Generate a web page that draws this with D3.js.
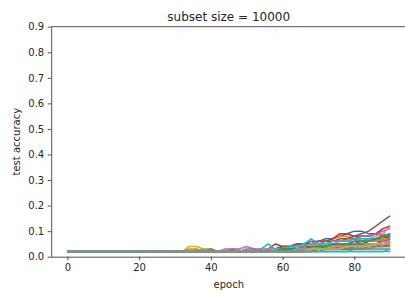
<!DOCTYPE html>
<html>
<head>
<meta charset="utf-8">
<script src="https://cdn.jsdelivr.net/npm/d3@7"></script>
<style>
  body { margin: 0; background: white; }
  text { font-family: "DejaVu Sans", sans-serif; fill: #262626; }
</style>
</head>
<body>
<div id="chart"></div>
<script>

const epochs = [0, 32, 34, 36, 38, 40, 42, 44, 46, 48, 50, 52, 54, 56, 58, 60,
                62, 64, 66, 68, 70, 72, 74, 76, 78, 80, 82, 84, 86, 88, 90];

// test accuracy of each run (one list per run, same order as epochs)
const run00 = [.02,.02,.02,.02,.02,.02,.02,.02,.02,.02,.02,.02,.02,.03,.03,.04,.04,.05,.05,.06,.06,.07,.07,.08,.09,.10,.10,.09,.09,.08,.09];
const run01 = [.02,.02,.02,.02,.02,.02,.02,.02,.02,.02,.02,.02,.02,.02,.02,.03,.03,.04,.05,.05,.06,.06,.07,.08,.08,.07,.08,.08,.09,.09,.08];
const run02 = [.02,.02,.02,.02,.02,.02,.02,.02,.02,.02,.02,.02,.02,.02,.03,.03,.04,.04,.04,.05,.05,.05,.06,.06,.06,.07,.06,.07,.07,.08,.07];
const run03 = [.02,.02,.02,.02,.02,.02,.02,.02,.02,.02,.02,.02,.02,.03,.05,.04,.04,.05,.05,.05,.06,.06,.07,.09,.09,.08,.08,.08,.09,.11,.12];
const run04 = [.02,.02,.02,.02,.03,.03,.02,.03,.03,.03,.04,.03,.03,.03,.03,.04,.04,.04,.05,.05,.05,.06,.06,.06,.07,.07,.08,.08,.09,.10,.11];
const run05 = [.02,.02,.02,.02,.02,.02,.02,.02,.02,.02,.02,.02,.02,.03,.03,.04,.04,.05,.05,.05,.06,.06,.06,.07,.07,.08,.09,.10,.12,.14,.16];
const run06 = [.02,.02,.02,.03,.02,.03,.02,.03,.03,.03,.04,.03,.03,.03,.03,.03,.04,.04,.04,.05,.05,.05,.05,.06,.06,.06,.07,.07,.08,.09,.12];
const run07 = [.02,.02,.02,.02,.02,.02,.02,.02,.02,.02,.02,.02,.02,.02,.02,.02,.03,.03,.03,.03,.04,.04,.04,.04,.05,.05,.05,.05,.05,.05,.05];
const run08 = [.02,.02,.04,.04,.03,.03,.02,.02,.02,.02,.02,.02,.02,.02,.03,.03,.03,.03,.04,.04,.04,.05,.05,.05,.05,.06,.06,.06,.06,.06,.06];
const run09 = [.02,.02,.02,.02,.02,.02,.02,.02,.02,.02,.02,.02,.03,.05,.03,.03,.04,.04,.05,.07,.05,.05,.06,.06,.06,.07,.07,.07,.07,.07,.07];
const run10 = [.02,.02,.02,.02,.02,.02,.02,.02,.02,.02,.02,.02,.02,.02,.02,.03,.03,.03,.03,.04,.04,.04,.04,.05,.05,.05,.05,.06,.06,.06,.07];
const run11 = [.02,.02,.03,.03,.02,.02,.02,.02,.02,.02,.02,.02,.02,.02,.02,.02,.02,.03,.03,.03,.04,.04,.04,.04,.04,.05,.05,.05,.05,.06,.06];
const run12 = [.02,.02,.02,.02,.02,.02,.02,.02,.02,.02,.02,.02,.02,.02,.02,.02,.03,.03,.03,.03,.03,.04,.04,.04,.05,.05,.05,.06,.06,.07,.08];
const run13 = [.02,.02,.02,.02,.02,.02,.02,.02,.02,.02,.02,.02,.02,.02,.02,.02,.02,.02,.03,.03,.03,.03,.03,.03,.04,.04,.04,.04,.05,.05,.05];
const run14 = [.02,.02,.02,.02,.02,.03,.02,.02,.03,.02,.03,.03,.02,.02,.02,.03,.03,.03,.03,.04,.04,.04,.04,.05,.05,.05,.06,.06,.06,.07,.09];
const run15 = [.02,.02,.02,.02,.02,.02,.02,.02,.02,.02,.02,.02,.02,.02,.02,.02,.02,.02,.02,.03,.03,.03,.03,.03,.04,.04,.04,.04,.04,.05,.04];
const run16 = [.02,.02,.02,.02,.02,.02,.02,.02,.02,.02,.02,.02,.02,.02,.02,.02,.02,.02,.02,.02,.03,.03,.03,.03,.03,.03,.03,.03,.04,.04,.04];
const run17 = [.02,.02,.02,.02,.02,.02,.02,.02,.02,.02,.02,.02,.02,.02,.02,.02,.02,.02,.02,.02,.02,.02,.02,.02,.02,.03,.03,.03,.03,.03,.03];
const run18 = [.02,.02,.02,.02,.02,.02,.02,.02,.02,.02,.02,.02,.02,.02,.02,.02,.02,.02,.03,.03,.03,.03,.03,.04,.04,.04,.04,.04,.05,.05,.06];
const run19 = [.02,.02,.02,.02,.02,.02,.02,.02,.02,.02,.02,.02,.02,.02,.02,.02,.02,.02,.02,.02,.02,.02,.02,.02,.02,.02,.02,.02,.02,.02,.03];
const run20 = [.02,.02,.02,.02,.02,.02,.02,.02,.02,.02,.02,.02,.02,.02,.02,.02,.03,.03,.03,.04,.04,.04,.05,.05,.05,.06,.06,.06,.07,.07,.08];
const run21 = [.02,.02,.02,.02,.02,.02,.02,.02,.02,.02,.02,.02,.02,.02,.02,.02,.02,.03,.03,.03,.04,.04,.04,.05,.05,.05,.06,.06,.06,.07,.07];
const run22 = [.02,.02,.02,.02,.02,.02,.02,.02,.02,.02,.02,.02,.02,.02,.02,.03,.03,.03,.04,.04,.04,.04,.05,.05,.05,.05,.06,.06,.07,.08,.09];
const run23 = [.02,.02,.02,.02,.02,.02,.02,.02,.02,.02,.02,.02,.02,.02,.02,.02,.02,.02,.02,.03,.03,.03,.03,.04,.04,.04,.04,.05,.05,.05,.06];
const run24 = [.02,.02,.02,.02,.02,.02,.02,.02,.02,.02,.02,.02,.02,.02,.02,.02,.02,.02,.03,.03,.03,.03,.04,.04,.04,.05,.05,.05,.05,.06,.07];
const run25 = [.02,.02,.02,.02,.02,.02,.02,.02,.02,.02,.02,.02,.02,.02,.02,.02,.02,.02,.02,.02,.03,.03,.03,.03,.03,.04,.04,.04,.04,.04,.05];
const run26 = [.02,.02,.02,.02,.02,.02,.02,.02,.02,.02,.02,.02,.02,.02,.02,.02,.02,.03,.03,.03,.03,.03,.04,.04,.04,.04,.04,.05,.05,.05,.06];
const run27 = [.02,.02,.02,.02,.02,.02,.02,.02,.02,.02,.02,.02,.02,.02,.02,.02,.02,.02,.02,.02,.02,.03,.03,.03,.03,.03,.03,.04,.04,.04,.04];
const run28 = [.02,.02,.02,.02,.02,.02,.02,.02,.02,.02,.02,.02,.02,.02,.02,.02,.02,.02,.02,.03,.03,.03,.03,.03,.04,.04,.04,.04,.05,.05,.05];
const run29 = [.02,.02,.02,.02,.02,.02,.02,.02,.02,.02,.02,.02,.02,.02,.02,.02,.02,.02,.02,.02,.02,.02,.02,.02,.02,.02,.02,.02,.02,.02,.02];

const runs = [run00, run01, run02, run03, run04, run05, run06, run07, run08, run09,
              run10, run11, run12, run13, run14, run15, run16, run17, run18, run19,
              run20, run21, run22, run23, run24, run25, run26, run27, run28, run29];

const yTicks = [0, 0.1, 0.2, 0.3, 0.4, 0.5, 0.6, 0.7, 0.8, 0.9];
const xTicks = [0, 20, 40, 60, 80];

// set svg dimensions and margins
const width = 405, height = 294;
const margin = {top: 26.7, right: -1.3, bottom: 37.3, left: 51.2};
const plotW = width - margin.left - margin.right;
const plotH = height - margin.top - margin.bottom;

let svg = d3.select("#chart")
  .append("svg")
  .attr("width", width)
  .attr("height", height);

let g = svg.append("g")
  .attr("transform", "translate(" + margin.left + "," + margin.top + ")");

// matplotlib style 5% margin on x
var xScale = d3.scaleLinear()
  .domain([-4.5, 94.5])
  .range([0, plotW]);

var yScale = d3.scaleLinear()
  .domain([0, 0.9])
  .range([plotH, 0]);

var color = d3.scaleOrdinal()
  .domain(d3.range(10))
  .range(d3.schemeCategory10);

// the lines
var line = d3.line()
  .x(function(d, i) { return xScale(epochs[i]); })
  .y(function(d) { return yScale(d); });

g.append("g")
  .selectAll("path")
  .data(runs)
  .join("path")
  .attr("fill", "none")
  .attr("stroke", function(d, i) { return color(i % 10); })
  .attr("stroke-width", 1.5)
  .attr("stroke-linejoin", "round")
  .attr("d", line);

// axes
let xAxis = g.append("g")
  .attr("transform", "translate(0," + plotH + ")")
  .call(d3.axisBottom(xScale).tickValues(xTicks).tickSize(3.5).tickPadding(3.5).tickSizeOuter(0));

let yAxis = g.append("g")
  .call(d3.axisLeft(yScale).tickValues(yTicks).tickFormat(d3.format(".1f")).tickSize(3.5).tickPadding(3.5).tickSizeOuter(0));

[xAxis, yAxis].forEach(function(a) {
  a.selectAll("text").style("font-size", "10px").style("font-family", "DejaVu Sans").attr("fill", "#262626");
  a.selectAll("line").attr("stroke", "#262626").attr("stroke-width", 0.8);
  a.select(".domain").attr("stroke", "#262626").attr("stroke-width", 0.8);
});

// top spine
g.append("line")
  .attr("x1", 0).attr("x2", plotW)
  .attr("y1", 0).attr("y2", 0)
  .attr("stroke", "#262626")
  .attr("stroke-width", 0.8);

// title and labels
svg.append("text")
  .attr("text-anchor", "middle")
  .attr("x", margin.left + plotW / 2)
  .attr("y", 20.5)
  .style("font-size", "12px")
  .text("subset size = 10000");

svg.append("text")
  .attr("text-anchor", "middle")
  .attr("x", margin.left + plotW / 2)
  .attr("y", 288)
  .style("font-size", "10px")
  .text("epoch");

svg.append("text")
  .attr("text-anchor", "middle")
  .attr("transform", "translate(20," + (margin.top + plotH / 2) + ") rotate(-90)")
  .style("font-size", "10px")
  .text("test accuracy");

</script>
</body>
</html>
